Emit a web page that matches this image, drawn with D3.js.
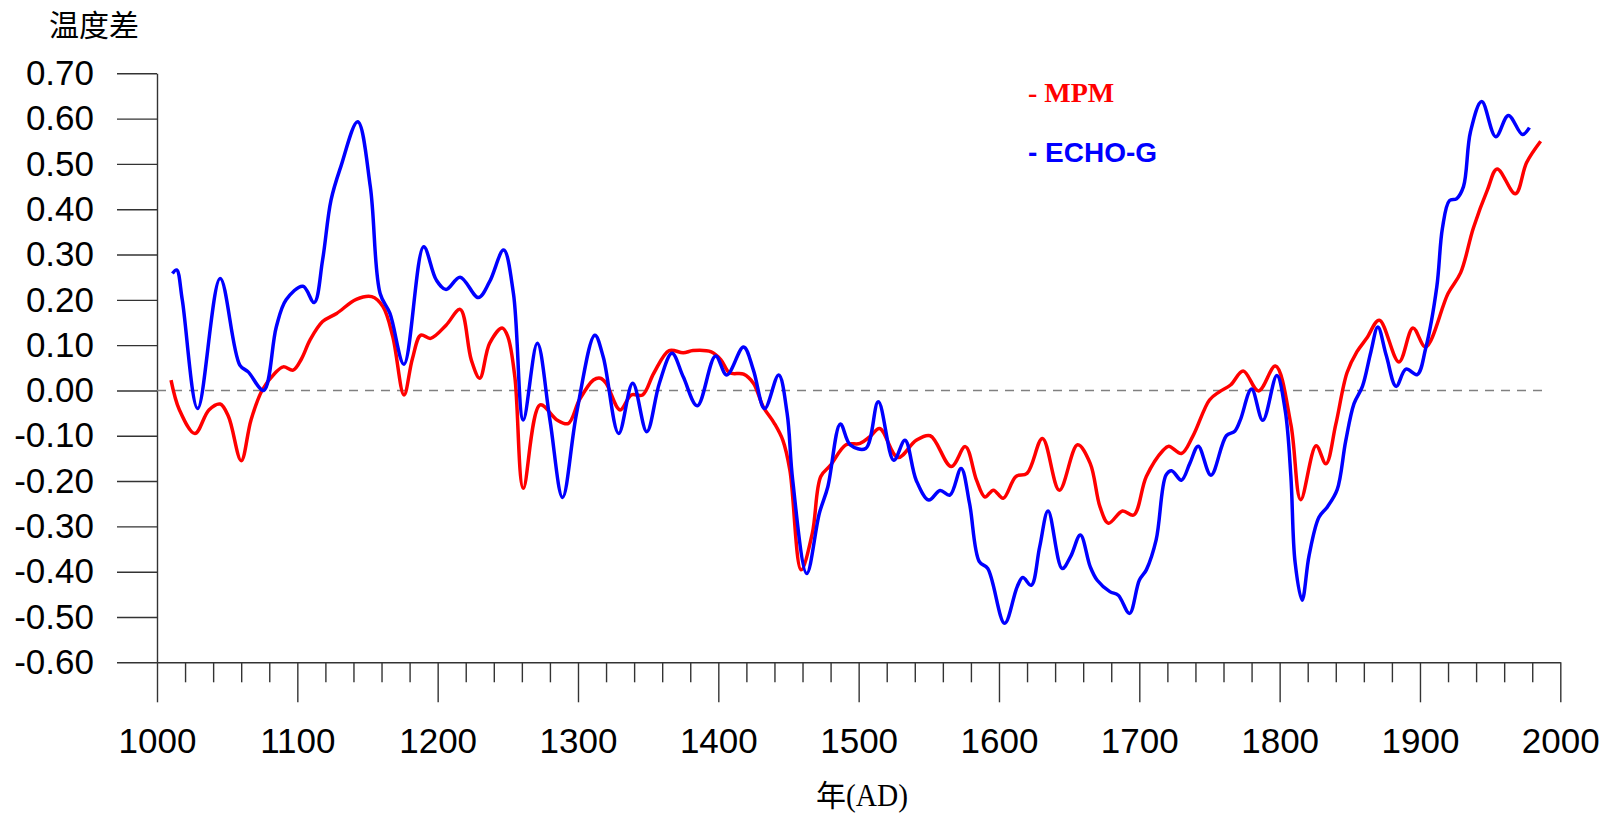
<!DOCTYPE html>
<html>
<head>
<meta charset="utf-8">
<script src="https://cdn.jsdelivr.net/npm/d3@7"></script>
<style>
  html, body { margin: 0; padding: 0; background: #fff; }
  svg { display: block; }
</style>
</head>
<body>
<script>
// Chart size
const width = 1613;
const height = 817;

// Axis ticks
const yTicks = [-0.6, -0.5, -0.4, -0.3, -0.2, -0.1, 0, 0.1, 0.2, 0.3, 0.4, 0.5, 0.6, 0.7];
const xMajor = [1000, 1100, 1200, 1300, 1400, 1500, 1600, 1700, 1800, 1900, 2000];
const xMinor = d3.range(1000, 2001, 20);

// MPM (red) series, [year, value]
const mpm = [
  [1010, 0.023], [1016, -0.043], [1027, -0.095], [1037, -0.043], [1045, -0.030],
  [1051, -0.058], [1060, -0.155], [1067, -0.065], [1075, 0.001], [1084, 0.038],
  [1090, 0.052], [1097, 0.045], [1103, 0.070], [1109, 0.111], [1118, 0.152],
  [1128, 0.170], [1142, 0.201], [1153, 0.207], [1161, 0.185], [1168, 0.119],
  [1176, -0.010], [1182, 0.070], [1188, 0.122], [1195, 0.115], [1206, 0.144],
  [1216, 0.179], [1224, 0.067], [1230, 0.027], [1237, 0.104], [1246, 0.138],
  [1250, 0.119], [1255, 0.030], [1261, -0.216], [1273, -0.032], [1285, -0.065],
  [1293, -0.073], [1301, -0.021], [1311, 0.023], [1316, 0.027], [1320, 0.016],
  [1330, -0.043], [1338, -0.010], [1346, -0.010], [1354, 0.038], [1365, 0.088],
  [1375, 0.083], [1382, 0.088], [1395, 0.085], [1402, 0.067], [1408, 0.039],
  [1418, 0.036], [1425, 0.016], [1432, -0.036], [1440, -0.073], [1446, -0.110],
  [1451, -0.176], [1459, -0.396], [1467, -0.315], [1473, -0.190], [1480, -0.165],
  [1491, -0.120], [1501, -0.117], [1508, -0.102], [1515, -0.084], [1528, -0.148],
  [1541, -0.110], [1551, -0.100], [1566, -0.168], [1576, -0.124], [1584, -0.198],
  [1590, -0.235], [1596, -0.220], [1603, -0.238], [1612, -0.190], [1620, -0.183],
  [1631, -0.106], [1643, -0.220], [1656, -0.120], [1665, -0.161], [1672, -0.257],
  [1678, -0.293], [1688, -0.266], [1696, -0.275], [1705, -0.190], [1717, -0.132],
  [1721, -0.123], [1730, -0.139], [1738, -0.102], [1750, -0.021], [1757, -0.003],
  [1765, 0.012], [1774, 0.043], [1785, -0.001], [1797, 0.054], [1808, -0.075],
  [1815, -0.241], [1826, -0.122], [1833, -0.162], [1840, -0.075], [1848, 0.039],
  [1855, 0.085], [1862, 0.115], [1871, 0.155], [1885, 0.063], [1895, 0.138],
  [1904, 0.096], [1920, 0.214], [1929, 0.260], [1938, 0.358], [1948, 0.442],
  [1955, 0.489], [1968, 0.434], [1976, 0.503], [1986, 0.550]
];

// ECHO-G (blue) series, [year, value]
const echoG = [
  [1011, 0.258], [1014, 0.266], [1018, 0.200], [1029, -0.040], [1045, 0.247],
  [1059, 0.056], [1065, 0.041], [1076, 0.000], [1085, 0.140], [1092, 0.200],
  [1104, 0.230], [1112, 0.194], [1118, 0.288], [1124, 0.420], [1131, 0.494],
  [1143, 0.593], [1152, 0.450], [1159, 0.214], [1166, 0.170], [1176, 0.058],
  [1190, 0.317], [1199, 0.244], [1206, 0.223], [1216, 0.250], [1229, 0.205],
  [1237, 0.240], [1247, 0.310], [1254, 0.214], [1261, -0.065], [1271, 0.104],
  [1280, -0.065], [1289, -0.236], [1299, -0.050], [1312, 0.122], [1318, 0.074],
  [1329, -0.095], [1339, 0.016], [1349, -0.091], [1358, 0.016], [1367, 0.082],
  [1375, 0.030], [1385, -0.034], [1398, 0.076], [1406, 0.034], [1418, 0.096],
  [1425, 0.045], [1433, -0.040], [1443, 0.034], [1449, -0.050], [1453, -0.198],
  [1463, -0.404], [1472, -0.271], [1478, -0.213], [1487, -0.074], [1494, -0.120],
  [1505, -0.128], [1514, -0.025], [1525, -0.154], [1533, -0.110], [1541, -0.198],
  [1550, -0.242], [1558, -0.221], [1565, -0.231], [1573, -0.172], [1579, -0.249],
  [1586, -0.378], [1592, -0.393], [1604, -0.514], [1613, -0.433], [1617, -0.413],
  [1623, -0.430], [1629, -0.345], [1635, -0.266], [1645, -0.393], [1651, -0.367],
  [1658, -0.319], [1665, -0.389], [1670, -0.419], [1679, -0.444], [1685, -0.452],
  [1693, -0.492], [1700, -0.419], [1705, -0.396], [1712, -0.330], [1719, -0.187],
  [1723, -0.177], [1730, -0.198], [1736, -0.161], [1742, -0.123], [1751, -0.187],
  [1762, -0.100], [1768, -0.090], [1772, -0.065], [1780, 0.003], [1788, -0.066],
  [1798, 0.033], [1804, -0.045], [1808, -0.189], [1811, -0.379], [1816, -0.463],
  [1821, -0.364], [1828, -0.280], [1834, -0.257], [1841, -0.219], [1847, -0.113],
  [1853, -0.029], [1859, 0.009], [1865, 0.085], [1870, 0.140], [1876, 0.077],
  [1883, 0.009], [1890, 0.047], [1898, 0.035], [1904, 0.092], [1912, 0.229],
  [1916, 0.358], [1921, 0.419], [1926, 0.423], [1931, 0.450], [1936, 0.571],
  [1944, 0.638], [1954, 0.560], [1963, 0.607], [1973, 0.565], [1978, 0.580]
];

// Legend entries
const legendItems = [
  { label: "- MPM", color: "#ff0000", font: "'Liberation Serif', 'Times New Roman', serif" },
  { label: "- ECHO-G", color: "#0000ff", font: "'Liberation Sans', Arial, sans-serif" }
];

const svg = d3.select("body")
  .append("svg")
  .attr("width", width)
  .attr("height", height);

// Scales
const x = d3.scaleLinear().domain([1000, 2000]).range([157, 1560.3]);
const y = d3.scaleLinear().domain([-0.6, 0.7]).range([662.3, 73.3]);

const axisColor = "#333";
const tickFont = "'Liberation Sans', Arial, sans-serif";

// Y axis
const yAxis = svg.append("g")
  .attr("transform", `translate(${x(1000)},0)`)
  .call(d3.axisLeft(y)
    .tickValues(yTicks)
    .tickSize(40)
    .tickSizeOuter(0)
    .tickPadding(23)
    .tickFormat(d => d.toFixed(2)));

// X axis: minor ticks every 20 years, longer ticks at the centuries
const xAxis = svg.append("g")
  .attr("transform", `translate(0,${y(-0.6)})`)
  .call(d3.axisBottom(x)
    .tickValues(xMinor)
    .tickSize(20)
    .tickSizeOuter(0)
    .tickPadding(46)
    .tickFormat(d => (xMajor.includes(d) ? d : "")));

xAxis.selectAll(".tick line")
  .filter(d => xMajor.includes(d))
  .attr("y2", 40);

[yAxis, xAxis].forEach(g => {
  g.selectAll("path, line")
    .attr("stroke", axisColor)
    .attr("stroke-width", 1.4);
  g.selectAll("text")
    .attr("fill", "#000")
    .style("font-family", tickFont)
    .style("font-size", "35px");
});

// Zero reference line
svg.append("line")
  .attr("x1", x(1000))
  .attr("x2", x(1988))
  .attr("y1", y(0))
  .attr("y2", y(0))
  .attr("stroke", "#808080")
  .attr("stroke-width", 1.6)
  .attr("stroke-dasharray", "9,7");

// Series lines
const line = d3.line()
  .x(d => x(d[0]))
  .y(d => y(d[1]))
  .curve(d3.curveCatmullRom.alpha(0.5));

svg.append("path")
  .datum(mpm)
  .attr("d", line)
  .attr("fill", "none")
  .attr("stroke", "#ff0000")
  .attr("stroke-width", 3.5)
  .attr("stroke-linejoin", "round");

svg.append("path")
  .datum(echoG)
  .attr("d", line)
  .attr("fill", "none")
  .attr("stroke", "#0000ff")
  .attr("stroke-width", 3.5)
  .attr("stroke-linejoin", "round");

// Legend
svg.selectAll(".legend")
  .data(legendItems)
  .enter()
  .append("text")
  .attr("class", "legend")
  .attr("x", 1028)
  .attr("y", (d, i) => 102 + i * 60)
  .attr("fill", d => d.color)
  .style("font-family", d => d.font)
  .style("font-weight", "bold")
  .style("font-size", "28px")
  .text(d => d.label);

// Axis titles
svg.append("text")
  .attr("x", 49)
  .attr("y", 36)
  .style("font-family", "'Noto Sans CJK SC', serif")
  .style("font-size", "30px")
  .attr("fill", "#000")
  .text("温度差");

const xTitle = svg.append("text")
  .attr("x", 816)
  .attr("y", 806)
  .attr("fill", "#000")
  .style("font-size", "30px");

xTitle.append("tspan")
  .style("font-family", "'Noto Sans CJK SC', sans-serif")
  .text("年");

xTitle.append("tspan")
  .style("font-family", "'Liberation Serif', serif")
  .style("font-size", "32px")
  .attr("textLength", 62)
  .attr("lengthAdjust", "spacingAndGlyphs")
  .text("(AD)");
</script>
</body>
</html>
